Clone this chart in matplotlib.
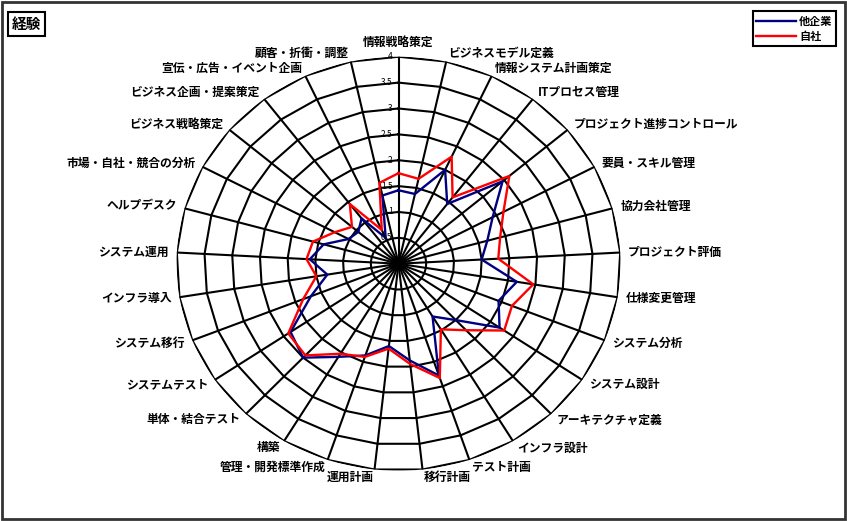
import numpy as np
import matplotlib
matplotlib.use('Agg')
import matplotlib.pyplot as plt
from matplotlib.patches import Rectangle

plt.rcParams['font.family'] = ['Noto Sans CJK JP', 'DejaVu Sans']

# skill areas, clockwise from the top
skills = ['情報戦略策定', 'ビジネスモデル定義', '情報システム計画策定', 'ITプロセス管理',
          'プロジェクト進捗コントロール', '要員・スキル管理', '協力会社管理', 'プロジェクト評価',
          '仕様変更管理', 'システム分析', 'システム設計', 'アーキテクチャ定義',
          'インフラ設計', 'テスト計画', '移行計画', '運用計画',
          '管理・開発標準作成', '構築', '単体・結合テスト', 'システムテスト',
          'システム移行', 'インフラ導入', 'システム運用', 'ヘルプデスク',
          '市場・自社・競合の分析', 'ビジネス戦略策定', 'ビジネス企画・提案策定',
          '宣伝・広告・イベント企画', '顧客・折衝・調整']

other_cos = [1.42, 1.38, 2.00, 1.45, 2.46, 1.92, 1.66, 1.50, 2.16, 1.94,
             2.20, 1.50, 1.19, 2.28, 1.88, 1.60, 1.87, 2.10, 2.50, 2.35,
             1.70, 1.30, 1.60, 1.40, 1.02, 0.95, 1.10, 0.55, 1.35]
own_co = [1.75, 1.68, 2.28, 1.61, 2.62, 2.14, 1.90, 1.80, 2.46, 2.20,
          2.30, 1.77, 1.48, 2.33, 1.95, 1.65, 1.90, 2.03, 2.44, 2.40,
          1.85, 1.50, 1.66, 1.60, 1.30, 1.10, 1.45, 0.72, 1.60]

rings = [0.5, 1.0, 1.5, 2.0, 2.5, 3.0, 3.5, 4.0]
ring_labels = ['0.5', '1', '1.5', '2', '2.5', '3', '3.5', '4']

n = len(skills)
theta = np.linspace(0, 2 * np.pi, n, endpoint=False)
theta_loop = np.append(theta, theta[0])

fig = plt.figure(figsize=(8.47, 5.21), dpi=100)
ax = fig.add_axes([0.2084, 0.0965, 0.5242, 0.7946], projection='polar')
ax.set_aspect('auto')
ax.set_theta_zero_location('N')
ax.set_theta_direction(-1)
ax.grid(False)
ax.spines['polar'].set_visible(False)
ax.patch.set_visible(False)

# polygon rings and spokes
for r in rings:
    ax.plot(theta_loop, [r] * (n + 1), color='black', lw=1.5, zorder=1)
for t in theta:
    ax.plot([t, t], [0, rings[-1]], color='black', lw=1.5, zorder=1)

l1, = ax.plot(theta_loop, other_cos + other_cos[:1], color='#000080', lw=1.7, zorder=3)
l2, = ax.plot(theta_loop, own_co + own_co[:1], color='#ff0000', lw=1.7, zorder=4)

ax.set_ylim(0, 4)
ax.set_xticks([])
ax.set_yticks([])

for r, lab in zip(rings, ring_labels):
    ax.annotate(lab, xy=(0, r), xytext=(-6, 0), textcoords='offset pixels',
                ha='right', va='center', fontsize=6, zorder=5)

for t, name in zip(theta, skills):
    s, c = np.sin(t), np.cos(t)
    ha = 'left' if s > 0.05 else 'right' if s < -0.05 else 'center'
    va = 'bottom' if abs(s) < 0.05 else 'center'
    ax.annotate(name, xy=(t, 4), xytext=(8 * s, 8 * c), textcoords='offset pixels',
                ha=ha, va=va, fontsize=8.5, fontweight='bold')

fig.legend([l1, l2], ['他企業', '自社'], loc='upper right',
           bbox_to_anchor=(0.987, 0.978), prop={'weight': 'bold', 'size': 8},
           frameon=True, fancybox=False, edgecolor='black', framealpha=1,
           handlelength=3.6, handletextpad=0.3, borderpad=0.3, labelspacing=0.2,
           borderaxespad=0)
fig.legends[0].get_frame().set_linewidth(1.5)

fig.text(0.014, 0.954, '経験', fontsize=10.5, fontweight='bold', ha='left', va='center',
         bbox=dict(boxstyle='square,pad=0.25', fc='white', ec='black', lw=1.5))

fig.add_artist(Rectangle((0.002, 0.003), 0.996, 0.994, transform=fig.transFigure,
                         fill=False, ec='#333333', lw=2))

fig.savefig('out.png', dpi=100)
